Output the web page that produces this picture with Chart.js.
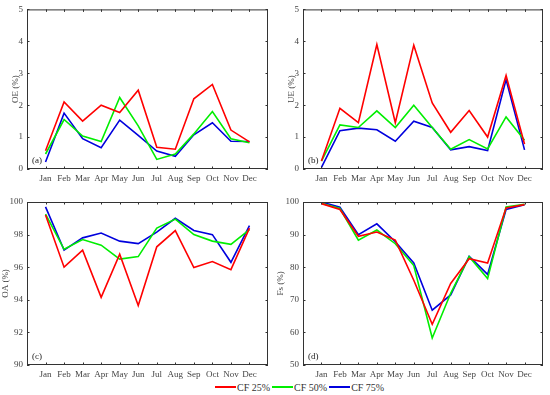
<!DOCTYPE html>
<html>
<head>
<meta charset="utf-8">
<script src="https://cdn.jsdelivr.net/npm/chart.js@4.4.1/dist/chart.umd.min.js"></script>
<style>
  body { margin: 0; background: #fff; }
  #wrap { position: relative; width: 550px; height: 395px; font-family: "Liberation Serif", serif; }
  canvas { position: absolute; }
  #legend { position: absolute; left: 215px; top: 380px; height: 14px; display: flex; align-items: center; font-size: 10px; color: #333; }
  #legend span.ln { display: inline-block; width: 21px; height: 2px; margin-right: 1px; }
  #legend span.tx { margin-right: 2px; }
</style>
</head>
<body>
<div id="wrap">
  <canvas id="chartA" style="left:0;top:0" width="275" height="190"></canvas>
  <canvas id="chartB" style="left:275px;top:0" width="275" height="190"></canvas>
  <canvas id="chartC" style="left:0;top:190px" width="275" height="190"></canvas>
  <canvas id="chartD" style="left:275px;top:190px" width="275" height="190"></canvas>
  <div id="legend"></div>
</div>
<script>
// months on the x axis
const months = ["Jan", "Feb", "Mar", "Apr", "May", "Jun", "Jul", "Aug", "Sep", "Oct", "Nov", "Dec"];
const seriesNames = ["CF 25%", "CF 50%", "CF 75%"];
const seriesColors = ["#ff0000", "#00ee00", "#0000dd"];

// (a) OE
const oe25 = [0.57, 2.1, 1.5, 2.0, 1.77, 2.47, 0.68, 0.62, 2.2, 2.65, 1.22, 0.85];
const oe50 = [0.47, 1.55, 1.03, 0.86, 2.24, 1.35, 0.3, 0.47, 1.1, 1.8, 0.95, 0.82];
const oe75 = [0.22, 1.75, 0.95, 0.67, 1.53, 1.05, 0.56, 0.4, 1.07, 1.45, 0.87, 0.86];

// (b) UE
const ue25 = [0.25, 1.9, 1.45, 3.9, 1.45, 3.88, 2.07, 1.15, 1.83, 1.0, 2.93, 0.78];
const ue50 = [0.25, 1.38, 1.3, 1.82, 1.3, 2.0, 1.3, 0.62, 0.92, 0.63, 1.63, 0.9];
const ue75 = [0.05, 1.2, 1.28, 1.23, 0.87, 1.5, 1.3, 0.6, 0.7, 0.58, 2.8, 0.6];

// (c) OA
const oa25 = [99.2, 96.0, 97.05, 94.15, 96.8, 93.65, 97.25, 98.25, 95.98, 96.35, 95.85, 98.4];
const oa50 = [99.25, 97.1, 97.7, 97.35, 96.5, 96.65, 98.4, 98.95, 98.0, 97.6, 97.4, 98.3];
const oa75 = [99.7, 97.05, 97.8, 98.1, 97.6, 97.45, 98.15, 99.0, 98.25, 98.0, 96.3, 98.55];

// (d) Fs
const fs25 = [99.5, 97.7, 89.5, 90.8, 88.3, 76, 62.5, 75, 82.6, 81.3, 98.2, 99.2];
const fs50 = [99.6, 98.0, 88.3, 91.4, 87.2, 80.5, 58.3, 72, 83.2, 76.5, 98.5, 99.3];
const fs75 = [100, 98.4, 90.0, 93.3, 87.8, 81.3, 66.8, 71.5, 83.3, 77.8, 97.7, 99.2];

const tickFont = { family: "Liberation Serif", size: 9 };

// box round the plot with inward ticks on all four sides, plus panel letter
const boxPlugin = {
  id: "box",
  afterDraw(chart, args, opts) {
    const ctx = chart.ctx;
    const a = chart.chartArea;
    ctx.save();
    ctx.strokeStyle = "#333";
    ctx.lineWidth = 1;
    ctx.strokeRect(a.left + 0.5, a.top + 0.5, a.right - a.left - 1, a.bottom - a.top - 1);
    const len = 2.5;
    ctx.beginPath();
    for (const t of chart.scales.x.ticks) {
      const px = Math.round(chart.scales.x.getPixelForValue(t.value)) + 0.5;
      ctx.moveTo(px, a.bottom); ctx.lineTo(px, a.bottom - len);
      ctx.moveTo(px, a.top); ctx.lineTo(px, a.top + len);
    }
    for (const t of chart.scales.y.ticks) {
      const py = Math.round(chart.scales.y.getPixelForValue(t.value)) + 0.5;
      ctx.moveTo(a.left, py); ctx.lineTo(a.left + len, py);
      ctx.moveTo(a.right, py); ctx.lineTo(a.right - len, py);
    }
    ctx.stroke();
    ctx.fillStyle = "#222";
    ctx.font = "9px 'Liberation Serif'";
    ctx.textBaseline = "alphabetic";
    ctx.fillText(opts.letter, a.left + 5, a.bottom - 6);
    ctx.restore();
  }
};

function toPoints(vals) {
  return vals.map((v, i) => ({ x: i + 1, y: v }));
}

function makePanel(id, letter, title, series, yMin, yMax, yStep, pad) {
  return new Chart(document.getElementById(id), {
    type: "line",
    data: {
      datasets: series.map((vals, k) => ({
        label: seriesNames[k],
        data: toPoints(vals),
        borderColor: seriesColors[k],
        borderWidth: 1.6,
        pointRadius: 0,
        tension: 0
      }))
    },
    options: {
      responsive: false,
      animation: false,
      layout: { padding: pad.layout },
      plugins: { legend: { display: false }, tooltip: { enabled: false }, box: { letter: letter } },
      scales: {
        x: {
          type: "linear",
          min: 0,
          max: 13,
          grid: { display: false, drawTicks: false },
          border: { display: false },
          afterBuildTicks: (s) => { s.ticks = months.map((m, i) => ({ value: i + 1 })); },
          afterFit: (s) => { s.height = pad.xh; },
          ticks: {
            autoSkip: false,
            maxRotation: 0,
            padding: 4,
            color: "#444",
            font: tickFont,
            callback: (v) => months[v - 1] || ""
          }
        },
        y: {
          min: yMin,
          max: yMax,
          grid: { display: false, drawTicks: false },
          border: { display: false },
          afterFit: (s) => { s.width = pad.yw; },
          ticks: { stepSize: yStep, padding: 4, color: "#444", font: tickFont },
          title: { display: true, text: title, color: "#444", font: tickFont, padding: { top: 0, bottom: 2 } }
        }
      }
    },
    plugins: [boxPlugin]
  });
}

makePanel("chartA", "(a)", "OE (%)", [oe25, oe50, oe75], 0, 5, 1,
  { layout: { top: 5, right: 7, left: 10, bottom: 0 }, xh: 21, yw: 17 });
makePanel("chartB", "(b)", "UE (%)", [ue25, ue50, ue75], 0, 5, 1,
  { layout: { top: 5, right: 7, left: 11, bottom: 0 }, xh: 21, yw: 17 });
makePanel("chartC", "(c)", "OA (%)", [oa25, oa50, oa75], 90, 100, 2,
  { layout: { top: 12, right: 7, left: 0, bottom: 0 }, xh: 15, yw: 27 });
makePanel("chartD", "(d)", "Fs (%)", [fs25, fs50, fs75], 50, 100, 10,
  { layout: { top: 12, right: 7, left: 0, bottom: 0 }, xh: 15, yw: 28 });

// legend at the bottom
const legend = document.getElementById("legend");
seriesNames.forEach((name, k) => {
  const ln = document.createElement("span");
  ln.className = "ln";
  ln.style.background = seriesColors[k];
  const tx = document.createElement("span");
  tx.className = "tx";
  tx.textContent = name;
  legend.appendChild(ln);
  legend.appendChild(tx);
});
</script>
</body>
</html>
